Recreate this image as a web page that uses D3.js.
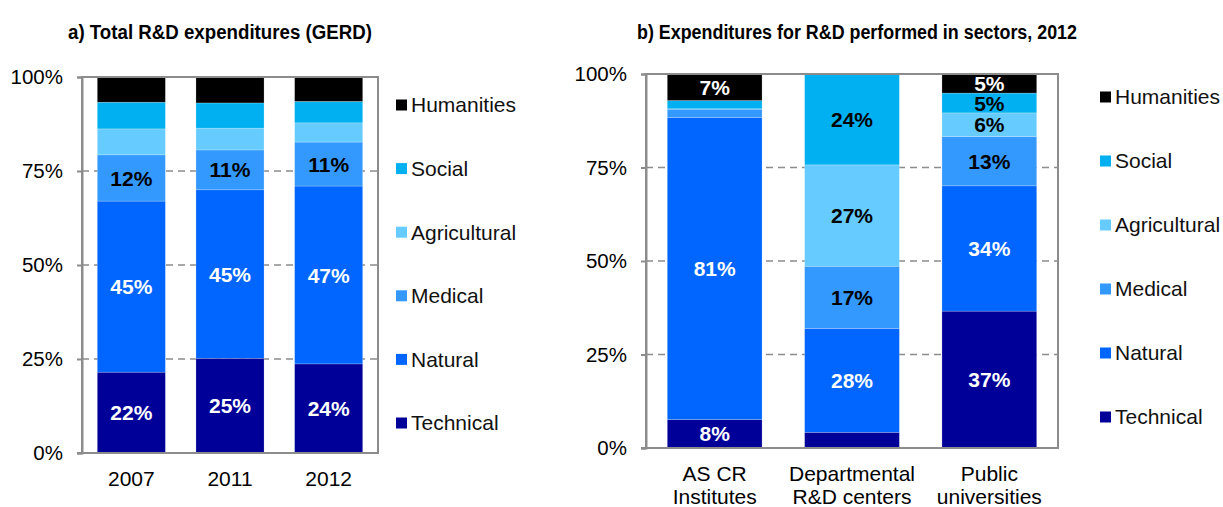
<!DOCTYPE html>
<html>
<head>
<meta charset="utf-8">
<script src="https://cdn.jsdelivr.net/npm/d3@7"></script>
<style>
  body { margin: 0; background: #fff; }
  text { font-family: "Liberation Sans", Arial, sans-serif; }
</style>
</head>
<body>
<div id="chart"></div>
<script>
// sectors, bottom to top
const sectors = ["Technical", "Natural", "Medical", "Agricultural", "Social", "Humanities"];
const sectorColors = ["#000099", "#0066ff", "#3399ff", "#66ccff", "#00b0f0", "#000000"];
const labelColors = ["#fff", "#fff", "#000", "#000", "#000", "#fff"];
const yTicks = [0, 25, 50, 75, 100];

// a) GERD by year (shares in %, read from picture)
const years = ["2007", "2011", "2012"];
const gerdTechnical    = [21.5, 25.2, 23.7];
const gerdNatural      = [45.5, 44.8, 47.3];
const gerdMedical      = [12.3, 10.6, 11.7];
const gerdAgricultural = [6.9, 5.8, 5.1];
const gerdSocial       = [7.1, 6.7, 5.7];
const gerdHumanities   = [6.7, 6.9, 6.5];
const gerdLabels = [
  ["22%", "25%", "24%"],
  ["45%", "45%", "47%"],
  ["12%", "11%", "11%"],
  [null, null, null],
  [null, null, null],
  [null, null, null]
];

// b) sectors of performance, 2012
const performers = [["AS CR", "Institutes"], ["Departmental", "R&D centers"], ["Public", "universities"]];
const perfTechnical    = [7.6, 4.2, 36.6];
const perfNatural      = [80.8, 27.8, 33.5];
const perfMedical      = [2.2, 16.6, 13.2];
const perfAgricultural = [0.1, 27.1, 6.3];
const perfSocial       = [2.2, 24.3, 5.3];
const perfHumanities   = [7.1, 0, 5.1];
const perfLabels = [
  ["8%", null, "37%"],
  ["81%", "28%", "34%"],
  [null, "17%", "13%"],
  [null, "27%", "6%"],
  [null, "24%", "5%"],
  ["7%", null, "5%"]
];

const svg = d3.select("#chart").append("svg")
    .attr("width", 1223)
    .attr("height", 507);

function drawChart(cfg) {
  var x = d3.scaleBand()
      .domain(d3.range(cfg.series[0].length))
      .range([cfg.left, cfg.right])
      .paddingInner(0.31)
      .paddingOuter(0.155);
  var y = d3.scaleLinear()
      .domain([0, 100])
      .range([cfg.bottom, cfg.top]);

  var g = svg.append("g");

  // title
  g.append("text")
      .attr("x", cfg.titleX)
      .attr("y", 39)
      .attr("text-anchor", "middle")
      .attr("font-size", 20)
      .attr("font-weight", "bold")
      .attr("textLength", cfg.titleW)
      .attr("lengthAdjust", "spacingAndGlyphs")
      .text(cfg.title);

  // dashed grid
  g.selectAll(".grid")
      .data([25, 50, 75])
      .enter().append("line")
      .attr("x1", cfg.left).attr("x2", cfg.right)
      .attr("y1", d => y(d)).attr("y2", d => y(d))
      .attr("stroke", "#8c8c8c")
      .attr("stroke-width", 1.5)
      .attr("stroke-dasharray", "7,5");

  // stacked bars
  var rows = cfg.series[0].map(function(_, i) {
    var o = {i: i};
    sectors.forEach(function(s, k) { o[s] = cfg.series[k][i]; });
    return o;
  });
  var stacked = d3.stack().keys(sectors)(rows);

  stacked.forEach(function(layer, k) {
    g.selectAll(".seg" + k)
        .data(layer)
        .enter().append("rect")
        .attr("x", d => x(d.data.i))
        .attr("y", d => y(d[1]))
        .attr("width", x.bandwidth())
        .attr("height", d => y(d[0]) - y(d[1]))
        .attr("fill", sectorColors[k])
        .attr("stroke", "rgba(255,255,255,0.35)")
        .attr("stroke-width", 0.6);
  });

  stacked.forEach(function(layer, k) {
    g.selectAll(".lab" + k)
        .data(layer.filter(d => cfg.labels[k][d.data.i] != null))
        .enter().append("text")
        .attr("x", d => x(d.data.i) + x.bandwidth() / 2)
        .attr("y", d => y((d[0] + d[1]) / 2))
        .attr("dy", "0.36em")
        .attr("text-anchor", "middle")
        .attr("font-size", 21)
        .attr("font-weight", "bold")
        .attr("fill", labelColors[k])
        .text(d => cfg.labels[k][d.data.i]);
  });

  // frame
  g.append("rect")
      .attr("x", cfg.left).attr("y", cfg.top)
      .attr("width", cfg.right - cfg.left)
      .attr("height", cfg.bottom - cfg.top)
      .attr("fill", "none")
      .attr("stroke", "#8c8c8c")
      .attr("stroke-width", 2);

  // y axis
  var yAxis = g.append("g")
      .attr("transform", "translate(" + cfg.left + ",0)")
      .call(d3.axisLeft(y).tickValues(yTicks).tickSize(5).tickPadding(14).tickFormat(d => d + "%"));
  yAxis.select(".domain").attr("stroke", "#8c8c8c").attr("stroke-width", 2);
  yAxis.selectAll(".tick line").attr("stroke", "#8c8c8c").attr("stroke-width", 2);
  yAxis.selectAll(".tick text")
      .attr("font-size", 20.5)
      .attr("font-family", "Liberation Sans, Arial, sans-serif")
      .attr("fill", "#000");

  // bottom axis line
  g.append("line")
      .attr("x1", cfg.left - 5).attr("x2", cfg.right)
      .attr("y1", cfg.bottom).attr("y2", cfg.bottom)
      .attr("stroke", "#8c8c8c")
      .attr("stroke-width", 2);

  // category labels
  cfg.categories.forEach(function(c, i) {
    var lines = Array.isArray(c) ? c : [c];
    var t = g.append("text")
        .attr("x", x(i) + x.bandwidth() / 2)
        .attr("y", cfg.catY)
        .attr("text-anchor", "middle")
        .attr("font-size", 21);
    lines.forEach(function(l, j) {
      t.append("tspan")
          .attr("x", x(i) + x.bandwidth() / 2)
          .attr("dy", j === 0 ? 0 : 23)
          .text(l);
    });
  });

  // legend, top to bottom
  var legendOrder = sectors.slice().reverse();
  legendOrder.forEach(function(s, j) {
    var k = sectors.indexOf(s);
    var cy = cfg.legendY + j * cfg.legendStep;
    g.append("rect")
        .attr("x", cfg.legendX)
        .attr("y", cy - 5.5)
        .attr("width", 11).attr("height", 11)
        .attr("fill", sectorColors[k]);
    g.append("text")
        .attr("x", cfg.legendX + 15)
        .attr("y", cy)
        .attr("dy", "0.35em")
        .attr("font-size", 21)
        .attr("fill", "#111")
        .text(s);
  });
}

drawChart({
  title: "a) Total R&D expenditures (GERD)",
  titleX: 220, titleW: 304,
  left: 82, right: 378, top: 77, bottom: 453,
  series: [gerdTechnical, gerdNatural, gerdMedical, gerdAgricultural, gerdSocial, gerdHumanities],
  labels: gerdLabels,
  categories: years,
  catY: 486,
  legendX: 396, legendY: 105, legendStep: 63.6
});

drawChart({
  title: "b) Expenditures for R&D performed in sectors, 2012",
  titleX: 857, titleW: 440,
  left: 646, right: 1058, top: 74, bottom: 448,
  series: [perfTechnical, perfNatural, perfMedical, perfAgricultural, perfSocial, perfHumanities],
  labels: perfLabels,
  categories: performers,
  catY: 481,
  legendX: 1100, legendY: 97, legendStep: 64
});
</script>
</body>
</html>
